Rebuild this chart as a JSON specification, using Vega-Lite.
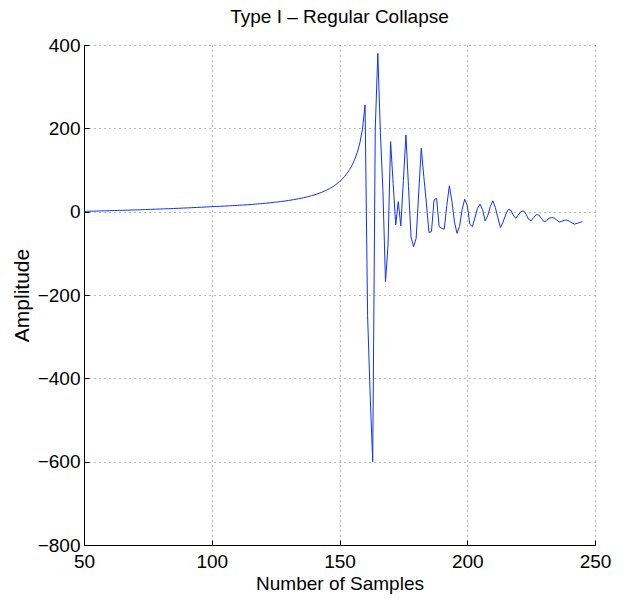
{
  "$schema": "https://vega.github.io/schema/vega-lite/v6.json",
  "width": 511,
  "height": 500,
  "autosize": {"type": "none"},
  "padding": {"left": 84, "top": 45, "right": 28, "bottom": 54},
  "background": "white",
  "title": {"text": "Type I – Regular Collapse", "font": "Liberation Sans", "fontSize": 19, "fontWeight": "normal", "color": "black", "offset": 9},
  "config": {"view": {"stroke": null}},
  "data": {"values": [
    {"n":50,"a":0.6},{"n":51,"a":0.8},{"n":52,"a":1.0},{"n":53,"a":1.1},{"n":54,"a":1.3},{"n":55,"a":1.5},{"n":56,"a":1.6},{"n":57,"a":1.8},{"n":58,"a":2.0},{"n":59,"a":2.2},
    {"n":60,"a":2.3},{"n":61,"a":2.5},{"n":62,"a":2.7},{"n":63,"a":2.9},{"n":64,"a":3.1},{"n":65,"a":3.3},{"n":66,"a":3.4},{"n":67,"a":3.6},{"n":68,"a":3.8},{"n":69,"a":4.0},
    {"n":70,"a":4.2},{"n":71,"a":4.4},{"n":72,"a":4.6},{"n":73,"a":4.9},{"n":74,"a":5.1},{"n":75,"a":5.3},{"n":76,"a":5.5},{"n":77,"a":5.7},{"n":78,"a":5.9},{"n":79,"a":6.2},
    {"n":80,"a":6.4},{"n":81,"a":6.6},{"n":82,"a":6.9},{"n":83,"a":7.1},{"n":84,"a":7.4},{"n":85,"a":7.6},{"n":86,"a":7.9},{"n":87,"a":8.1},{"n":88,"a":8.4},{"n":89,"a":8.7},
    {"n":90,"a":8.9},{"n":91,"a":9.2},{"n":92,"a":9.5},{"n":93,"a":9.8},{"n":94,"a":10.1},{"n":95,"a":10.4},{"n":96,"a":10.7},{"n":97,"a":11.0},{"n":98,"a":11.3},{"n":99,"a":11.7},
    {"n":100,"a":12.0},{"n":101,"a":12.3},{"n":102,"a":12.5},{"n":103,"a":12.8},{"n":104,"a":13.1},{"n":105,"a":13.4},{"n":106,"a":13.7},{"n":107,"a":14.1},{"n":108,"a":14.4},{"n":109,"a":14.7},
    {"n":110,"a":15.1},{"n":111,"a":15.5},{"n":112,"a":15.9},{"n":113,"a":16.3},{"n":114,"a":16.7},{"n":115,"a":17.1},{"n":116,"a":17.6},{"n":117,"a":18.1},{"n":118,"a":18.6},{"n":119,"a":19.1},
    {"n":120,"a":19.6},{"n":121,"a":20.2},{"n":122,"a":20.8},{"n":123,"a":21.4},{"n":124,"a":22.1},{"n":125,"a":22.8},{"n":126,"a":23.5},{"n":127,"a":24.3},{"n":128,"a":25.1},{"n":129,"a":25.9},
    {"n":130,"a":26.8},{"n":131,"a":27.8},{"n":132,"a":28.8},{"n":133,"a":29.9},{"n":134,"a":31.0},{"n":135,"a":32.3},{"n":136,"a":33.6},{"n":137,"a":35.0},{"n":138,"a":36.5},{"n":139,"a":38.2},
    {"n":140,"a":40.0},{"n":141,"a":41.9},{"n":142,"a":44.1},{"n":143,"a":46.4},{"n":144,"a":49.0},{"n":145,"a":51.8},{"n":146,"a":54.9},{"n":147,"a":58.4},{"n":148,"a":62.4},{"n":149,"a":66.9},
    {"n":150,"a":72},{"n":151,"a":77.8},{"n":152,"a":84.5},{"n":153,"a":92.3},{"n":154,"a":101.5},{"n":155,"a":112.5},{"n":156,"a":126},{"n":157,"a":143},{"n":158,"a":166},{"n":159,"a":198},
    {"n":160,"a":256},{"n":161,"a":-250},{"n":162,"a":-440},{"n":163,"a":-600},{"n":164,"a":200},{"n":165,"a":380},{"n":166,"a":190},{"n":167,"a":50},{"n":168,"a":-168},{"n":169,"a":-80},
    {"n":170,"a":168},{"n":171,"a":68},{"n":172,"a":-32},{"n":173,"a":24},{"n":174,"a":-34},{"n":175,"a":75},{"n":176,"a":184},{"n":177,"a":60},{"n":178,"a":-61},{"n":179,"a":-84},
    {"n":180,"a":-64},{"n":181,"a":45},{"n":182,"a":152},{"n":183,"a":84},{"n":184,"a":21},{"n":185,"a":-50},{"n":186,"a":-48},{"n":187,"a":28},{"n":188,"a":32},{"n":189,"a":-36},
    {"n":190,"a":-40},{"n":191,"a":-42},{"n":192,"a":15},{"n":193,"a":62},{"n":194,"a":25},{"n":195,"a":-25},{"n":196,"a":-52},{"n":197,"a":-35},{"n":198,"a":5},{"n":199,"a":30},
    {"n":200,"a":15},{"n":201,"a":-30},{"n":202,"a":-36},{"n":203,"a":-15},{"n":204,"a":8},{"n":205,"a":18},{"n":206,"a":5},{"n":207,"a":-22},{"n":208,"a":-10},{"n":209,"a":12},
    {"n":210,"a":26},{"n":211,"a":10},{"n":212,"a":-15},{"n":213,"a":-38},{"n":214,"a":-25},{"n":215,"a":-8},{"n":216,"a":5},{"n":217,"a":4},{"n":218,"a":-8},{"n":219,"a":-16},
    {"n":220,"a":-8},{"n":221,"a":0},{"n":222,"a":2},{"n":223,"a":-6},{"n":224,"a":-18},{"n":225,"a":-22},{"n":226,"a":-14},{"n":227,"a":-7},{"n":228,"a":-8},{"n":229,"a":-16},
    {"n":230,"a":-24},{"n":231,"a":-22},{"n":232,"a":-16},{"n":233,"a":-14},{"n":234,"a":-15},{"n":235,"a":-20},{"n":236,"a":-25},{"n":237,"a":-23},{"n":238,"a":-21},{"n":239,"a":-20},
    {"n":240,"a":-23},{"n":241,"a":-27},{"n":242,"a":-30},{"n":243,"a":-28},{"n":244,"a":-26},{"n":245,"a":-24}
  ]},
  "mark": {"type": "line", "color": "#1030ff", "strokeWidth": 1, "interpolate": "linear"},
  "encoding": {
    "x": {"field": "n", "type": "quantitative", "scale": {"domain": [50, 250], "nice": false, "zero": false},
      "axis": {"title": "Number of Samples", "values": [50, 100, 150, 200, 250], "grid": true, "gridColor": "#777", "gridDash": [1, 4], "gridWidth": 1,
        "domainColor": "black", "tickColor": "black", "tickSize": -5, "labelFont": "Liberation Sans", "labelFontSize": 19, "labelColor": "black", "labelPadding": 12,
        "titleFont": "Liberation Sans", "titleFontSize": 19, "titleFontWeight": "normal", "titleColor": "black", "titlePadding": 3, "labelFlush": false}},
    "y": {"field": "a", "type": "quantitative", "scale": {"domain": [-800, 400], "nice": false, "zero": false},
      "axis": {"title": "Amplitude", "values": [-800, -600, -400, -200, 0, 200, 400], "grid": true, "gridColor": "#777", "gridDash": [1, 4], "gridWidth": 1,
        "domainColor": "black", "tickColor": "black", "tickSize": -5, "labelFont": "Liberation Sans", "labelFontSize": 19, "labelColor": "black", "labelPadding": 9,
        "titleFont": "Liberation Sans", "titleFontSize": 21, "titleFontWeight": "normal", "titleColor": "black", "titlePadding": 5}}
  }
}
